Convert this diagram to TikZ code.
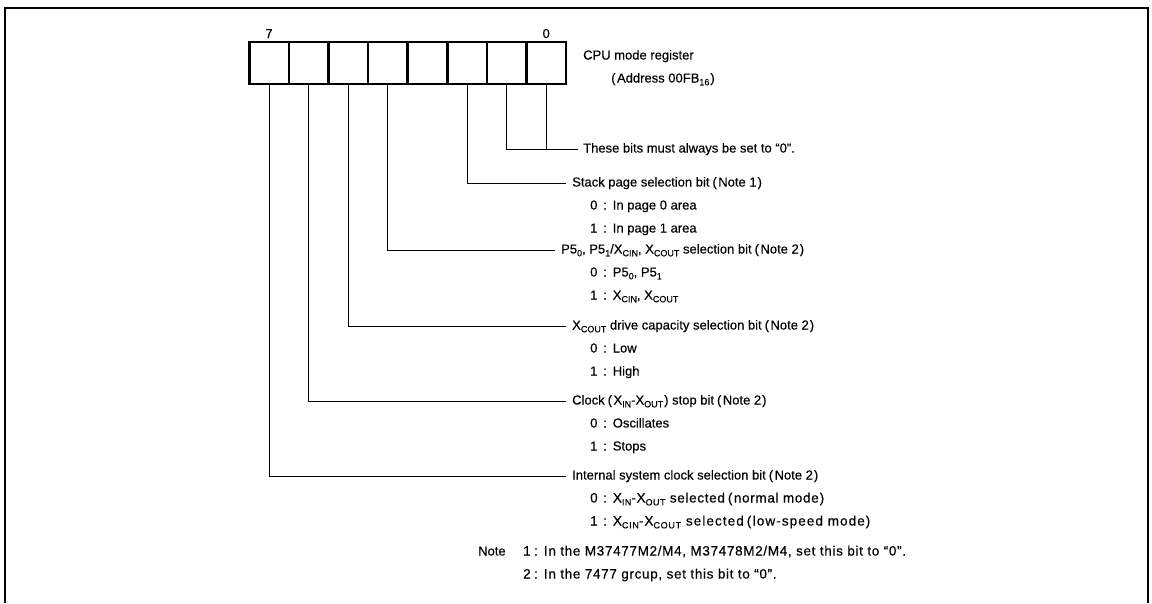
\documentclass[tikz,border=0pt]{standalone}
\usepackage{fontspec}
\setmainfont[FakeBold=0.35]{Liberation Sans}
\newcommand\sbs[1]{\raisebox{-0.4ex}{\fontsize{9}{9}\selectfont #1}}
\newcommand\val[2]{\makebox[13pt][l]{#1}:\hspace{6pt}#2}
\newcommand\lp{\hspace{3pt}(\hspace{1.5pt}}
\newcommand\rp{\hspace{1pt})}
\begin{document}
\begin{tikzpicture}[x=1pt,y=-1pt,
  cell/.style={draw,line width=2.6pt,minimum width=39.6pt,minimum height=42pt,inner sep=0pt},
  lbl/.style={anchor=west,inner sep=0pt,text height=9.5pt,text depth=2.5pt,font=\fontsize{13}{15}\selectfont},
  wide/.style={font=\fontsize{13.5}{15}\selectfont\addfontfeature{LetterSpace=5}},
  wider/.style={font=\fontsize{13.5}{15}\selectfont\addfontfeature{LetterSpace=8}},
  num/.style={anchor=base,inner sep=0pt,font=\fontsize{13}{15}\selectfont},
  conn/.style={line width=0.7pt}]
\useasboundingbox (0,0) rectangle (1152,603);
% frame
\draw[line width=2pt] (5,603) -- (5,8) -- (1148,8) -- (1148,603);
% register cells
\foreach \i in {0,...,7} \node[cell] (c\i) at ({566-39.6*(\i+0.5)},63) {};
\node[num] (n7) at ({566-39.6*7.5},38) {7};
\node[num] (n0) at ({566-39.6*0.5},38) {0};
\node[lbl] (title) at (583,56) {CPU mode register};
\node[lbl] (addr) at (608,79) {\lp Address 00FB\sbs{16}\rp};
% bit descriptions
\node[lbl] (t0) at (583,149) {These bits must always be set to ``0''.};
\node[lbl] (t2) at (572,183) {Stack page selection bit\lp Note 1\rp};
\node[lbl] (t2a) at (590,206) {\val{0}{In page 0 area}};
\node[lbl] (t2b) at (590,229) {\val{1}{In page 1 area}};
\node[lbl] (t4) at (561,250) {P5\sbs{0}, P5\sbs{1}/X\sbs{CIN}, X\sbs{COUT} selection bit\lp Note 2\rp};
\node[lbl] (t4a) at (590,273) {\val{0}{P5\sbs{0}, P5\sbs{1}}};
\node[lbl] (t4b) at (590,296) {\val{1}{X\sbs{CIN}, X\sbs{COUT}}};
\node[lbl] (t5) at (572,326) {X\sbs{COUT} drive capacity selection bit\lp Note 2\rp};
\node[lbl] (t5a) at (590,349) {\val{0}{Low}};
\node[lbl] (t5b) at (590,372) {\val{1}{High}};
\node[lbl] (t6) at (572,401) {Clock\lp X\sbs{IN}-X\sbs{OUT}\rp\ stop bit\lp Note 2\rp};
\node[lbl] (t6a) at (590,424) {\val{0}{Oscillates}};
\node[lbl] (t6b) at (590,447) {\val{1}{Stops}};
\node[lbl] (t7) at (572,476) {Internal system clock selection bit\lp Note 2\rp};
\node[lbl,wide] (t7a) at (590,499) {\val{0}{X\sbs{IN}-X\sbs{OUT} selected\lp normal mode\rp}};
\node[lbl,wider] (t7b) at (590,522) {\val{1}{X\sbs{CIN}-X\sbs{COUT} selected\lp low-speed mode\rp}};
% notes
\node[lbl] (note) at (478,552) {Note};
\node[lbl,wide] (note1) at (523,552) {\makebox[11pt][l]{1}:\hspace{6pt}In the M37477M2/M4, M37478M2/M4, set this bit to ``0''.};
\node[lbl,wide] (note2) at (523,575) {\makebox[11pt][l]{2}:\hspace{6pt}In the 7477 grcup, set this bit to ``0''.};
% connectors
\draw[conn] (c1.south) |- ([xshift=-5pt]t0.west);
\draw[conn] (c0.south) -- (c0.south |- t0.west);
\draw[conn] (c2.south) |- ([xshift=-6pt]t2.west);
\draw[conn] (c4.south) |- ([xshift=-6pt]t4.west);
\draw[conn] (c5.south) |- ([xshift=-6pt]t5.west);
\draw[conn] (c6.south) |- ([xshift=-6pt]t6.west);
\draw[conn] (c7.south) |- ([xshift=-6pt]t7.west);
\end{tikzpicture}
\end{document}
